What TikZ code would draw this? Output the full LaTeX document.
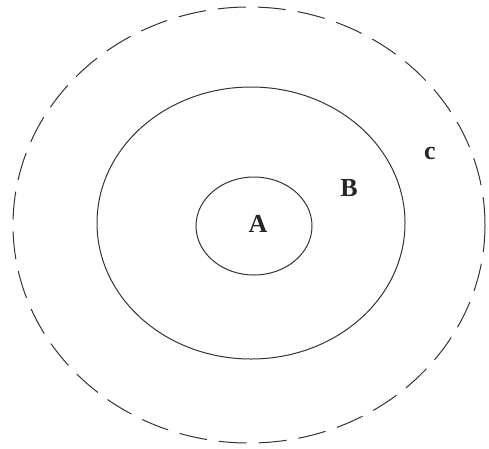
\documentclass[tikz,border=0pt]{standalone}
\usepackage{fontspec}
\setmainfont{Liberation Serif}
\usepackage{tikz}
\usetikzlibrary{shapes.geometric}

\begin{document}
\begin{tikzpicture}[x=1pt,y=-1pt,
  ring/.style={draw=black!80,ellipse,inner sep=0pt,outer sep=0pt,line width=1pt},
  outerring/.style={ring,dash pattern=on 28pt off 12pt},
  lbl/.style={font=\fontsize{26}{30}\selectfont\bfseries,text=black!85,inner sep=0pt}]
\useasboundingbox (0,0) rectangle (489,448);
\node[outerring,minimum width=472pt,minimum height=436pt] (setC) at (249,225) {};
\node[ring,minimum width=308pt,minimum height=272pt] (setB) at (251,223) {};
\node[ring,minimum width=116pt,minimum height=98pt] (setA) at (254,226) {};
\node[lbl] (labA) at (258,224) {A};
\node[lbl] (labB) at (349,188) {B};
\node[lbl] (labC) at (430,153) {c};
\end{tikzpicture}
\end{document}
